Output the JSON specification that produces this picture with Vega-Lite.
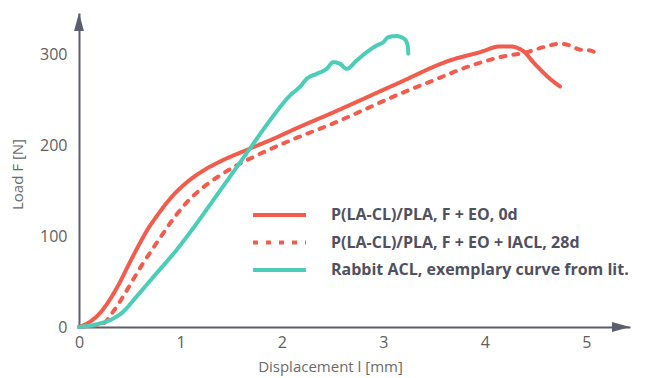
{
  "$schema": "https://vega.github.io/schema/vega-lite/v6.json",
  "width": 551,
  "height": 314,
  "autosize": {"type": "none"},
  "padding": {"left": 79, "top": 13, "right": 28, "bottom": 51},
  "background": "white",
  "config": {
    "view": {"stroke": null},
    "font": "Open Sans"
  },
  "datasets": {
    "curves": [
      {"series": "P(LA-CL)/PLA, F + EO, 0d", "x": 0, "y": 0},
      {"series": "P(LA-CL)/PLA, F + EO, 0d", "x": 0.102, "y": 5.3},
      {"series": "P(LA-CL)/PLA, F + EO, 0d", "x": 0.2, "y": 14.5},
      {"series": "P(LA-CL)/PLA, F + EO, 0d", "x": 0.299, "y": 29.2},
      {"series": "P(LA-CL)/PLA, F + EO, 0d", "x": 0.397, "y": 48},
      {"series": "P(LA-CL)/PLA, F + EO, 0d", "x": 0.496, "y": 70},
      {"series": "P(LA-CL)/PLA, F + EO, 0d", "x": 0.594, "y": 91},
      {"series": "P(LA-CL)/PLA, F + EO, 0d", "x": 0.68, "y": 108},
      {"series": "P(LA-CL)/PLA, F + EO, 0d", "x": 0.76, "y": 121},
      {"series": "P(LA-CL)/PLA, F + EO, 0d", "x": 0.897, "y": 141},
      {"series": "P(LA-CL)/PLA, F + EO, 0d", "x": 1.061, "y": 159},
      {"series": "P(LA-CL)/PLA, F + EO, 0d", "x": 1.225, "y": 172},
      {"series": "P(LA-CL)/PLA, F + EO, 0d", "x": 1.39, "y": 182},
      {"series": "P(LA-CL)/PLA, F + EO, 0d", "x": 1.668, "y": 195.5},
      {"series": "P(LA-CL)/PLA, F + EO, 0d", "x": 1.915, "y": 207},
      {"series": "P(LA-CL)/PLA, F + EO, 0d", "x": 2.161, "y": 219.5},
      {"series": "P(LA-CL)/PLA, F + EO, 0d", "x": 2.474, "y": 234.5},
      {"series": "P(LA-CL)/PLA, F + EO, 0d", "x": 3.131, "y": 267.5},
      {"series": "P(LA-CL)/PLA, F + EO, 0d", "x": 3.656, "y": 293.2},
      {"series": "P(LA-CL)/PLA, F + EO, 0d", "x": 3.952, "y": 302.3},
      {"series": "P(LA-CL)/PLA, F + EO, 0d", "x": 4.149, "y": 308.6},
      {"series": "P(LA-CL)/PLA, F + EO, 0d", "x": 4.248, "y": 308.6},
      {"series": "P(LA-CL)/PLA, F + EO, 0d", "x": 4.379, "y": 303.4},
      {"series": "P(LA-CL)/PLA, F + EO, 0d", "x": 4.477, "y": 291.3},
      {"series": "P(LA-CL)/PLA, F + EO, 0d", "x": 4.642, "y": 273},
      {"series": "P(LA-CL)/PLA, F + EO, 0d", "x": 4.74, "y": 264.6},
      {"series": "P(LA-CL)/PLA, F + EO + lACL, 28d", "x": 0, "y": 0},
      {"series": "P(LA-CL)/PLA, F + EO + lACL, 28d", "x": 0.234, "y": 3.5},
      {"series": "P(LA-CL)/PLA, F + EO + lACL, 28d", "x": 0.332, "y": 16.3},
      {"series": "P(LA-CL)/PLA, F + EO + lACL, 28d", "x": 0.431, "y": 32.8},
      {"series": "P(LA-CL)/PLA, F + EO + lACL, 28d", "x": 0.529, "y": 51.2},
      {"series": "P(LA-CL)/PLA, F + EO + lACL, 28d", "x": 0.628, "y": 69.5},
      {"series": "P(LA-CL)/PLA, F + EO + lACL, 28d", "x": 0.726, "y": 86},
      {"series": "P(LA-CL)/PLA, F + EO + lACL, 28d", "x": 0.815, "y": 100.7},
      {"series": "P(LA-CL)/PLA, F + EO + lACL, 28d", "x": 0.963, "y": 124},
      {"series": "P(LA-CL)/PLA, F + EO + lACL, 28d", "x": 1.11, "y": 142.5},
      {"series": "P(LA-CL)/PLA, F + EO + lACL, 28d", "x": 1.291, "y": 159.3},
      {"series": "P(LA-CL)/PLA, F + EO + lACL, 28d", "x": 1.39, "y": 166.7},
      {"series": "P(LA-CL)/PLA, F + EO + lACL, 28d", "x": 1.521, "y": 175.8},
      {"series": "P(LA-CL)/PLA, F + EO + lACL, 28d", "x": 1.751, "y": 188.7},
      {"series": "P(LA-CL)/PLA, F + EO + lACL, 28d", "x": 2.161, "y": 208.8},
      {"series": "P(LA-CL)/PLA, F + EO + lACL, 28d", "x": 2.474, "y": 222.5},
      {"series": "P(LA-CL)/PLA, F + EO + lACL, 28d", "x": 3.163, "y": 256.5},
      {"series": "P(LA-CL)/PLA, F + EO + lACL, 28d", "x": 3.49, "y": 271.2},
      {"series": "P(LA-CL)/PLA, F + EO + lACL, 28d", "x": 3.82, "y": 285.8},
      {"series": "P(LA-CL)/PLA, F + EO + lACL, 28d", "x": 4.149, "y": 296.8},
      {"series": "P(LA-CL)/PLA, F + EO + lACL, 28d", "x": 4.412, "y": 302.3},
      {"series": "P(LA-CL)/PLA, F + EO + lACL, 28d", "x": 4.576, "y": 307.8},
      {"series": "P(LA-CL)/PLA, F + EO + lACL, 28d", "x": 4.74, "y": 311.6},
      {"series": "P(LA-CL)/PLA, F + EO + lACL, 28d", "x": 4.839, "y": 309.7},
      {"series": "P(LA-CL)/PLA, F + EO + lACL, 28d", "x": 4.937, "y": 305},
      {"series": "P(LA-CL)/PLA, F + EO + lACL, 28d", "x": 5.036, "y": 304.2},
      {"series": "P(LA-CL)/PLA, F + EO + lACL, 28d", "x": 5.118, "y": 299.8},
      {"series": "Rabbit ACL, exemplary curve from lit.", "x": 0, "y": 0},
      {"series": "Rabbit ACL, exemplary curve from lit.", "x": 0.168, "y": 2.8},
      {"series": "Rabbit ACL, exemplary curve from lit.", "x": 0.332, "y": 9},
      {"series": "Rabbit ACL, exemplary curve from lit.", "x": 0.431, "y": 16.3},
      {"series": "Rabbit ACL, exemplary curve from lit.", "x": 0.562, "y": 32.8},
      {"series": "Rabbit ACL, exemplary curve from lit.", "x": 0.759, "y": 58.5},
      {"series": "Rabbit ACL, exemplary curve from lit.", "x": 0.956, "y": 84},
      {"series": "Rabbit ACL, exemplary curve from lit.", "x": 1.094, "y": 104},
      {"series": "Rabbit ACL, exemplary curve from lit.", "x": 1.39, "y": 150},
      {"series": "Rabbit ACL, exemplary curve from lit.", "x": 1.668, "y": 193.7},
      {"series": "Rabbit ACL, exemplary curve from lit.", "x": 1.9, "y": 230},
      {"series": "Rabbit ACL, exemplary curve from lit.", "x": 2.08, "y": 254.7},
      {"series": "Rabbit ACL, exemplary curve from lit.", "x": 2.18, "y": 264.5},
      {"series": "Rabbit ACL, exemplary curve from lit.", "x": 2.244, "y": 273},
      {"series": "Rabbit ACL, exemplary curve from lit.", "x": 2.343, "y": 278.5},
      {"series": "Rabbit ACL, exemplary curve from lit.", "x": 2.441, "y": 284},
      {"series": "Rabbit ACL, exemplary curve from lit.", "x": 2.506, "y": 291.3},
      {"series": "Rabbit ACL, exemplary curve from lit.", "x": 2.572, "y": 289.5},
      {"series": "Rabbit ACL, exemplary curve from lit.", "x": 2.638, "y": 284},
      {"series": "Rabbit ACL, exemplary curve from lit.", "x": 2.737, "y": 293.2},
      {"series": "Rabbit ACL, exemplary curve from lit.", "x": 2.835, "y": 302.3},
      {"series": "Rabbit ACL, exemplary curve from lit.", "x": 2.934, "y": 309.7},
      {"series": "Rabbit ACL, exemplary curve from lit.", "x": 2.999, "y": 313.3},
      {"series": "Rabbit ACL, exemplary curve from lit.", "x": 3.048, "y": 318.8},
      {"series": "Rabbit ACL, exemplary curve from lit.", "x": 3.131, "y": 320},
      {"series": "Rabbit ACL, exemplary curve from lit.", "x": 3.21, "y": 316.5},
      {"series": "Rabbit ACL, exemplary curve from lit.", "x": 3.24, "y": 309},
      {"series": "Rabbit ACL, exemplary curve from lit.", "x": 3.245, "y": 300.5}
    ],
    "origin": [{}]
  },
  "layer": [
    {
      "data": {"name": "curves"},
      "mark": {"type": "line", "strokeWidth": 4, "strokeCap": "round", "strokeJoin": "round", "interpolate": "monotone"},
      "encoding": {
        "x": {
          "field": "x", "type": "quantitative",
          "scale": {"domain": [0, 5.43], "nice": false, "zero": false},
          "axis": {
            "values": [0, 1, 2, 3, 4, 5], "format": "d", "labelFlush": false,
            "grid": false, "ticks": false, "tickSize": 0,
            "domainColor": "#5d5e6d", "domainWidth": 2,
            "labelFontSize": 16, "labelColor": "#606060", "labelPadding": 7,
            "labelFont": "Open Sans",
            "title": "Displacement l [mm]",
            "titleFont": "Open Sans", "titleFontSize": 15, "titleFontWeight": "normal",
            "titleColor": "#6a6a6a",
            "titleX": 251, "titleY": 39, "titleBaseline": "middle", "titleAlign": "center"
          }
        },
        "y": {
          "field": "y", "type": "quantitative",
          "scale": {"domain": [0, 345.4], "nice": false},
          "axis": {
            "values": [0, 100, 200, 300], "format": "d", "labelFlush": false,
            "grid": false, "ticks": false, "tickSize": 0,
            "domainColor": "#5d5e6d", "domainWidth": 2,
            "labelFontSize": 16, "labelColor": "#606060", "labelPadding": 12,
            "labelFont": "Open Sans",
            "title": "Load F [N]",
            "titleFont": "Open Sans", "titleFontSize": 15, "titleFontWeight": "normal",
            "titleColor": "#6a6a6a",
            "titleX": -62, "titleY": 161, "titleBaseline": "middle", "titleAlign": "center", "titleAngle": -90
          }
        },
        "color": {
          "field": "series", "type": "nominal",
          "scale": {
            "domain": ["P(LA-CL)/PLA, F + EO, 0d", "P(LA-CL)/PLA, F + EO + lACL, 28d", "Rabbit ACL, exemplary curve from lit."],
            "range": ["#f25c4c", "#f25c4c", "#4ccdb7"]
          },
          "legend": {
            "title": null,
            "orient": "none",
            "legendX": 172,
            "legendY": 192,
            "padding": 0,
            "symbolType": "stroke",
            "symbolSize": 2809,
            "symbolStrokeWidth": 4,
            "clipHeight": 20,
            "rowPadding": 7.5,
            "labelOffset": 23,
            "labelFont": "Open Sans",
            "labelFontSize": 16,
            "labelFontWeight": "bold",
            "labelColor": "#50515e",
            "labelLimit": 400
          }
        },
        "strokeDash": {
          "field": "series", "type": "nominal",
          "scale": {
            "domain": ["P(LA-CL)/PLA, F + EO, 0d", "P(LA-CL)/PLA, F + EO + lACL, 28d", "Rabbit ACL, exemplary curve from lit."],
            "range": [[1, 0], [5, 8], [1, 0]]
          },
          "legend": {
            "title": null,
            "orient": "none",
            "legendX": 172,
            "legendY": 192,
            "padding": 0,
            "symbolType": "stroke",
            "symbolSize": 2809,
            "symbolStrokeWidth": 4,
            "clipHeight": 20,
            "rowPadding": 7.5,
            "labelOffset": 23,
            "labelFont": "Open Sans",
            "labelFontSize": 16,
            "labelFontWeight": "bold",
            "labelColor": "#50515e",
            "labelLimit": 400
          }
        }
      }
    },
    {
      "data": {"name": "origin"},
      "mark": {"type": "point", "shape": "M-2,-0.55L0,0L-2,0.55Z", "size": 324, "filled": true, "fill": "#5d5e6d", "strokeWidth": 0, "opacity": 1},
      "encoding": {
        "x": {"datum": 5.43, "type": "quantitative"},
        "y": {"datum": 0, "type": "quantitative"}
      }
    },
    {
      "data": {"name": "origin"},
      "mark": {"type": "point", "shape": "M-0.55,2L0,0L0.55,2Z", "size": 324, "filled": true, "fill": "#5d5e6d", "strokeWidth": 0, "opacity": 1},
      "encoding": {
        "x": {"datum": 0, "type": "quantitative"},
        "y": {"datum": 345.4, "type": "quantitative"}
      }
    }
  ]
}
